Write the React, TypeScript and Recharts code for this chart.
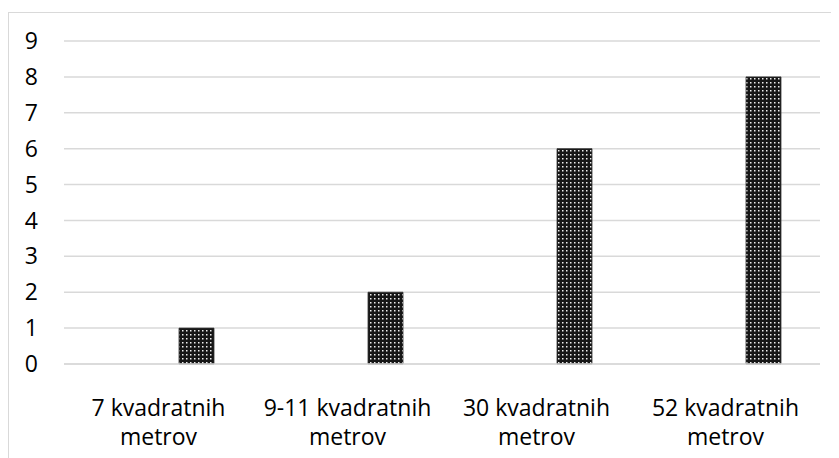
import React from 'react';
import { BarChart, Bar, XAxis, YAxis, CartesianGrid } from 'recharts';

const categories = ['7 kvadratnih metrov', '9-11 kvadratnih metrov', '30 kvadratnih metrov', '52 kvadratnih metrov'];
const emptySeries: (number | null)[] = [null, null, null, null];
const counts = [1, 2, 6, 8];
const yTicks = [0, 1, 2, 3, 4, 5, 6, 7, 8, 9];

const data = categories.map((name, i) => ({ name, empty: emptySeries[i], count: counts[i] }));

const font = '"Open Sans", sans-serif';

const CategoryTick = (props: any) => {
    const { x, y, payload } = props;
    const label: string = payload.value;
    const cut = label.lastIndexOf(' ');
    return (
        <text x={x} y={y} textAnchor="middle" fill="#000" fontSize={23} fontFamily={font}>
            <tspan x={x} dy={52}>{label.slice(0, cut)}</tspan>
            <tspan x={x} dy={29}>{label.slice(cut + 1)}</tspan>
        </text>
    );
};

export default function App() {
    return (
        <div style={{ width: 840, height: 460, border: '1px solid #d9d9d9', marginTop: 4, boxSizing: 'border-box' }}>
            <BarChart width={830} height={445} data={data} margin={{ top: 28, right: 19, left: 0, bottom: 0 }}
                barSize={35} barGap={41}>
                <defs>
                    <pattern id="dots" width={4} height={4} patternUnits="userSpaceOnUse">
                        <rect width={4} height={4} fill="#161616" />
                        <rect x={1} y={1} width={1.5} height={1.5} fill="#eeeeee" />
                    </pattern>
                </defs>
                <CartesianGrid vertical={false} stroke="#d9d9d9" strokeWidth={1.5} />
                <XAxis dataKey="name" height={94} tickLine={false} tickSize={0} tickMargin={0}
                    axisLine={{ stroke: '#d9d9d9', strokeWidth: 1.5 }} tick={<CategoryTick />} interval={0} />
                <YAxis width={55} domain={[0, 9]} ticks={yTicks} axisLine={false} tickLine={false}
                    tickSize={0} tickMargin={26} tick={{ fill: '#000', fontSize: 23, fontFamily: font }} />
                <Bar dataKey="empty" fill="none" isAnimationActive={false} />
                <Bar dataKey="count" fill="url(#dots)" stroke="#333" strokeWidth={0.8} isAnimationActive={false} />
            </BarChart>
        </div>
    );
}
